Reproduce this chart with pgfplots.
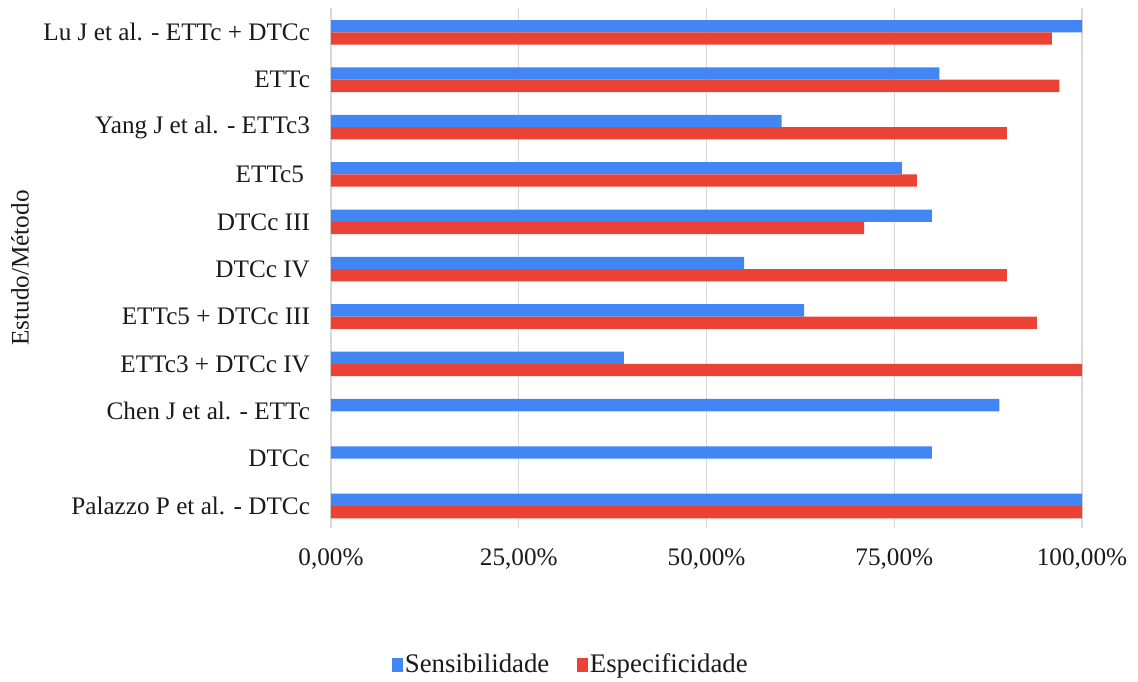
\documentclass[border=0pt]{standalone}
\usepackage{fontspec}
\setmainfont{Liberation Serif}
\usepackage{pgfplots}
\pgfplotsset{compat=1.18}
\definecolor{sens}{HTML}{4285F4}
\definecolor{spec}{HTML}{EA4335}
\definecolor{gridc}{HTML}{D9D9D9}
\definecolor{txt}{HTML}{1A1A1A}
\begin{document}
\begin{tikzpicture}
\path (-165.5pt,-75pt) rectangle (403.5pt,264pt);
\begin{axis}[
 at={(0,0)}, anchor=south west,
 scale only axis, width=375.5pt, height=260pt,
 xbar, bar width=6.15pt,
 xmin=0, xmax=100, ymin=-0.464, ymax=10.514,
 xtick={0,25,50,75,100},
 xticklabels={{0,00\%},{25,00\%},{50,00\%},{75,00\%},{100,00\%}},
 ytick={0,1,2,3,4,5,6,7,8,9,10},
 yticklabels={{Palazzo P et al. - DTCc},{DTCc},{Chen J et al. - ETTc},{ETTc3 + DTCc IV},{ETTc5 + DTCc III},{DTCc IV},{DTCc III},{ETTc5\kern3pt},{Yang J et al. - ETTc3},{ETTc},{Lu J et al. - ETTc + DTCc}},
 xmajorgrids, grid style={gridc, line width=0.7pt},
 axis line style={draw=none}, major tick length=0pt,
 font=\fontsize{12.6}{15}\selectfont,
 every tick label/.append style={text=txt},
 yticklabel style={anchor=east, xshift=-7pt},
 xticklabel style={anchor=center, yshift=-15.5pt},
 ylabel={Estudo/Método},
 ylabel style={at={(axis description cs:-0.414,0.5)}, anchor=center, rotate=0, text=txt},
 legend style={at={(0.3196,-0.263)}, anchor=center, draw=none, fill=none, legend columns=2,
   font=\fontsize{13.4}{16}\selectfont,
   /tikz/every even column/.append style={column sep=13pt}, nodes={inner sep=1pt, text=txt}},
 legend image code/.code={\fill[#1] (0pt,-3.5pt) rectangle (5.3pt,3.5pt);},
]
\addplot[fill=sens, draw=none, bar shift=3.075pt] coordinates {
 (100,0) (80,1) (89,2) (39,3) (63,4) (55,5) (80,6) (76,7) (60,8) (81,9) (100,10)};
\addlegendentry{Sensibilidade}
\addplot[fill=spec, draw=none, bar shift=-3.075pt] coordinates {
 (100,0) (100,3) (94,4) (90,5) (71,6) (78,7) (90,8) (97,9) (96,10)};
\addlegendentry{Especificidade}
\end{axis}
\end{tikzpicture}
\end{document}
